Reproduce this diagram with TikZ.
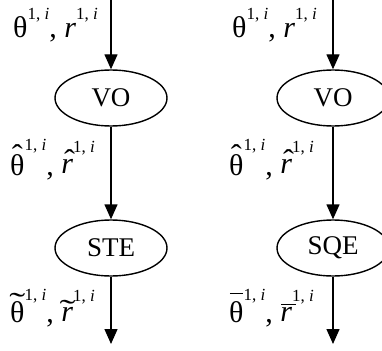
\documentclass[tikz,border=0pt]{standalone}
\usepackage{fontspec}
\setmainfont{Liberation Serif}
\usetikzlibrary{arrows.meta,shapes.geometric}
\newcommand\accon[4][0pt]{\leavevmode\setbox0\hbox{#3}\hbox to\wd0{\hss\kern#1\raisebox{#4}[0pt][0pt]{#2}\hss}\kern-\wd0\box0}
\newcommand\supi[1]{\raisebox{#1}{\fontsize{17}{17}\selectfont 1, \textit{i}}}
\newcommand\hatc{\scalebox{1.1}[1]{ˆ}}
\newcommand\tilc{\scalebox{1.6}[1]{˜}}
\tikzset{
  flow/.style={line width=1.4pt,-{Triangle[length=15pt,width=13pt]}},
  blk/.style={ellipse,draw,line width=1.4pt,minimum width=112pt,minimum height=56pt,inner sep=0pt,font=\fontsize{27}{28}\selectfont},
  lbl/.style={anchor=base west,inner sep=0pt,font=\fontsize{30}{32}\selectfont}
}
\begin{document}
\begin{tikzpicture}[x=1pt,y=-1pt]
\useasboundingbox (0,0) rectangle (382,350);
\clip (0,0) rectangle (382,350);
% left column
\coordinate (ls) at (111,0);
\node[blk] (lvo) at (111,98) {VO};
\node[blk] (lste) at (111,248) {STE};
\coordinate (le) at (111,344);
\draw[flow] (ls) -- (lvo);
\draw[flow] (lvo) -- (lste);
\draw[flow] (lste) -- (le);
% right column
\coordinate (rs) at (333,0);
\node[blk] (rvo) at (333,98) {VO};
\node[blk] (rsqe) at (333,248) {SQE};
\coordinate (re) at (333,344);
\draw[flow] (rs) -- (rvo);
\draw[flow] (rvo) -- (rsqe);
\draw[flow] (rsqe) -- (re);
% labels
\node[lbl] (l1) at (13,38) {θ\supi{18pt}, \textit{r}\supi{18pt}};
\node[lbl] (l2) at (10,175) {\accon{\hatc}{θ}{10pt}\supi{25pt}, \raisebox{2pt}{\accon[5pt]{\hatc}{\textit{r}}{3pt}}\supi{23pt}};
\node[lbl] (l3) at (10,322) {\accon{\tilc}{θ}{9pt}\supi{22pt}, \raisebox{1pt}{\accon[1pt]{\tilc}{\textit{r}}{1pt}}\supi{21pt}};
\node[lbl] (r1) at (232,38) {θ\supi{18pt}, \textit{r}\supi{18pt}};
\node[lbl] (r2) at (229,175) {\accon{\hatc}{θ}{10pt}\supi{25pt}, \raisebox{2pt}{\accon[5pt]{\hatc}{\textit{r}}{3pt}}\supi{23pt}};
\node[lbl] (r3) at (229,322) {\accon{\rule{13pt}{1pt}}{θ}{28pt}\supi{22pt}, \raisebox{1pt}{\accon[5pt]{\rule{15pt}{1pt}}{\textit{r}}{16pt}}\supi{21pt}};
\end{tikzpicture}
\end{document}
